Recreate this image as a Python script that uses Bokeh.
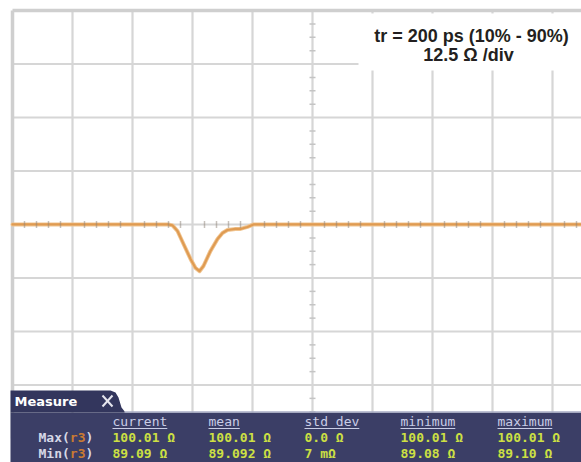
import numpy as np
from bokeh.plotting import figure
from bokeh.models import Range1d, Label
from bokeh.embed import file_html
from bokeh.resources import INLINE

# ---- data -------------------------------------------------------------
# TDR trace: time in screen divisions from centre, impedance in ohms
t_div = [-5.0, -2.40, -2.333, -2.25, -2.15, -2.033, -1.95, -1.883, -1.817,
         -1.70, -1.583, -1.50, -1.417, -1.283, -1.20, -1.083, -0.983, 4.7]
z_ohm = [100.01, 100.01, 99.80, 98.49, 95.45, 91.95, 89.85, 89.09, 90.31,
         93.82, 96.62, 98.02, 98.72, 98.96, 98.96, 99.43, 100.01, 100.01]

z_centre = 100.0          # ohms at the centre graticule line
ohm_per_div = 12.5
rise_label = "tr = 200 ps (10% - 90%)"
scale_label = "12.5 \u03a9 /div"

meas_cols = ["current", "mean", "std dev", "minimum", "maximum"]
meas_max = ["100.01 \u03a9", "100.01 \u03a9", "0.0 \u03a9", "100.01 \u03a9", "100.01 \u03a9"]
meas_min = ["89.09 \u03a9", "89.092 \u03a9", "7 m\u03a9", "89.08 \u03a9", "89.10 \u03a9"]

# ---- screen geometry ----------------------------------------------------
W, H = 581, 462
PX_DIV_X, PX_DIV_Y = 60.0, 53.5
X0_PX, TOP_PX = 12.0, 10.0                # left / top graticule edge
K = ohm_per_div / PX_DIV_Y                # ohms per pixel
x_lo = -5 - X0_PX / PX_DIV_X
y_hi = z_centre + 4 * ohm_per_div + TOP_PX * K


def sx(px):
    return x_lo + px / PX_DIV_X


def sy(py):
    return y_hi - py * K


p = figure(width=W, height=H, x_range=Range1d(x_lo, x_lo + W / PX_DIV_X),
           y_range=Range1d(y_hi - H * K, y_hi), output_backend="svg",
           toolbar_location=None, min_border=0, background_fill_color="white",
           border_fill_color="white", outline_line_color=None)
p.axis.visible = False
p.grid.visible = False

# ---- graticule ----------------------------------------------------------
gx = np.arange(-4, 6)
gy = z_centre + ohm_per_div * np.arange(-3, 4)
p.segment(x0=gx, x1=gx, y0=z_centre - 4 * ohm_per_div, y1=z_centre + 4 * ohm_per_div,
          line_color="#d6d6d6", line_width=2.2)
p.segment(x0=-5, x1=6, y0=gy, y1=gy, line_color="#d6d6d6", line_width=2.2)
# frame edges
p.segment(x0=[-5], x1=[-5], y0=[z_centre - 4 * ohm_per_div], y1=[z_centre + 4 * ohm_per_div],
          line_color="#cfcfcf", line_width=3.5)
p.segment(x0=[-5], x1=[6], y0=[z_centre + 4 * ohm_per_div], y1=[z_centre + 4 * ohm_per_div],
          line_color="#cfcfcf", line_width=3.5)

# minor ticks on the vertical centre line
ty = z_centre + ohm_per_div * np.arange(-4, 4.01, 0.25)
ty = ty[np.abs((ty - z_centre) / ohm_per_div - np.round((ty - z_centre) / ohm_per_div)) > 1e-6]
p.segment(x0=-3 / PX_DIV_X, x1=3 / PX_DIV_X, y0=ty, y1=ty, line_color="#c4c4c4", line_width=1.5)

# ---- trace ----------------------------------------------------------------
p.line(t_div, z_ohm, line_color="#f0c490", line_width=4, line_join="round", line_cap="round")
p.line(t_div, z_ohm, line_color="#df9b52", line_width=2.2, line_join="round", line_cap="round")

# minor ticks on the horizontal centre line, drawn over the trace
tx = np.arange(-5, 6, 0.2)
tx = tx[np.abs(tx - np.round(tx)) > 1e-6]
p.segment(x0=tx, x1=tx, y0=z_centre - 3.5 * K, y1=z_centre + 3.5 * K,
          line_color="#8d8478", line_width=1.5, line_alpha=0.5)

# ---- annotation box -------------------------------------------------------
p.quad(left=sx(358), right=sx(W), top=sy(13), bottom=sy(70), fill_color="white", line_color=None)
p.add_layout(Label(x=sx(471), y=sy(35), text=rise_label, text_align="center",
                   text_baseline="middle", text_font="Liberation Sans", text_font_style="bold",
                   text_font_size="18px", text_color="#231f20"))
p.add_layout(Label(x=sx(468), y=sy(54), text=scale_label, text_align="center",
                   text_baseline="middle", text_font="Liberation Sans", text_font_style="bold",
                   text_font_size="18px", text_color="#231f20"))

# ---- measurement panel ----------------------------------------------------
navy = "#3b3e66"
p.quad(left=sx(10), right=sx(W), top=sy(412), bottom=sy(H), fill_color=navy, line_color=None)
tab_px = [(10, 412), (10, 390), (110, 390), (115, 392), (118, 397), (121, 407), (125, 412)]
p.patch([sx(a) for a, b in tab_px], [sy(b) for a, b in tab_px], fill_color="#33365d", line_color=None)
p.segment(x0=[sx(124)], x1=[sx(W)], y0=[sy(411.5)], y1=[sy(411.5)], line_color="#a9adc4", line_width=1.5)
p.add_layout(Label(x=sx(14), y=sy(400.5), text="Measure", text_baseline="middle",
                   text_font="DejaVu Sans", text_font_style="bold", text_font_size="13px",
                   text_color="white"))
p.segment(x0=[sx(102), sx(102)], x1=[sx(112), sx(112)], y0=[sy(395), sy(406)], y1=[sy(406), sy(395)],
          line_color="#e6e6ee", line_width=2)

CW = 7.83  # monospace advance at 13px
mono = dict(text_font="DejaVu Sans Mono", text_font_size="13px", text_baseline="middle")
col_px = [112, 208, 304, 400, 497]
for cx, name, vmax, vmin in zip(col_px, meas_cols, meas_max, meas_min):
    p.add_layout(Label(x=sx(cx), y=sy(421), text=name, text_color="#c9cde6", **mono))
    p.segment(x0=[sx(cx)], x1=[sx(cx + CW * len(name))], y0=[sy(428)], y1=[sy(428)],
              line_color="#c9cde6", line_width=1)
    p.add_layout(Label(x=sx(cx), y=sy(437), text=vmax, text_color="#cde043",
                       text_font_style="bold", **mono))
    p.add_layout(Label(x=sx(cx), y=sy(452.5), text=vmin, text_color="#cde043",
                       text_font_style="bold", **mono))

for row_y, row_name in [(437, "Max("), (452.5, "Min(")]:
    p.add_layout(Label(x=sx(38), y=sy(row_y), text=row_name, text_color="#d6d8e6",
                       text_font_style="bold", **mono))
    p.add_layout(Label(x=sx(38 + 4 * CW), y=sy(row_y), text="r3", text_color="#c97a33",
                       text_font_style="bold", **mono))
    p.add_layout(Label(x=sx(38 + 6 * CW), y=sy(row_y), text=")", text_color="#d6d8e6",
                       text_font_style="bold", **mono))

open("out.html", "w").write(file_html(p, INLINE))
